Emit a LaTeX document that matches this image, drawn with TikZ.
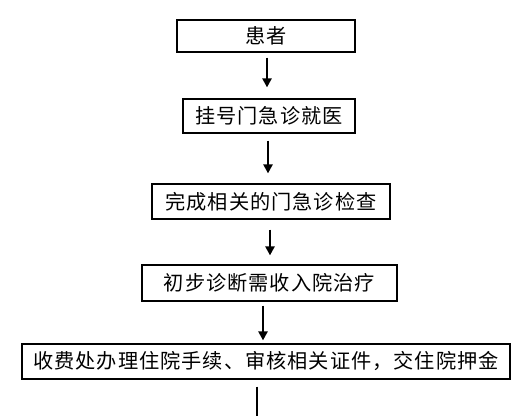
\documentclass[tikz,border=0pt]{standalone}
\usepackage{fontspec}
\newfontfamily\cjk[LetterSpace=5]{Noto Sans CJK SC}
\usetikzlibrary{arrows.meta,calc}
\begin{document}
\begin{tikzpicture}[x=1pt,y=1pt,
  box/.style={draw=black,line width=1.2pt,fill=white,inner sep=0pt,font=\cjk\fontsize{20.2pt}{22pt}\selectfont,anchor=center},
  arr/.style={line width=2.4pt,-{Triangle[width=9pt,length=9pt]}}]
\useasboundingbox[fill=white] (0,0) rectangle (516,416);
\node[box,minimum width=178pt,minimum height=32pt] (b1) at (266,380) {患者};
\node[box,minimum width=172pt,minimum height=34pt] (b2) at (269,300) {挂号门急诊就医};
\node[box,minimum width=238pt,minimum height=35pt] (b3) at (271,214.5) {完成相关的门急诊检查};
\node[box,minimum width=255pt,minimum height=36pt] (b4) at (269.5,133) {初步诊断需收入院治疗};
\node[box,minimum width=488pt,minimum height=35pt] (b5) at (266,54.5) {收费处办理住院手续、审核相关证件，交住院押金};
\coordinate (end5) at (257,0);
\draw[arr] ($(b1.south)+(1,-5)$) -- ($(b2.north)+(-2,11)$);
\draw[arr] ($(b2.south)+(-1,-7)$) -- ($(b3.north)+(-3,10)$);
\draw[arr] ($(b3.south)+(-1,-10)$) -- ($(b4.north)+(0.5,9)$);
\draw[arr] ($(b4.south)+(-6.5,-4)$) -- ($(b5.north)+(-3,3)$);
\draw[line width=2.4pt] ($(b5.south)+(-9,-7)$) -- (end5);
\end{tikzpicture}
\end{document}
